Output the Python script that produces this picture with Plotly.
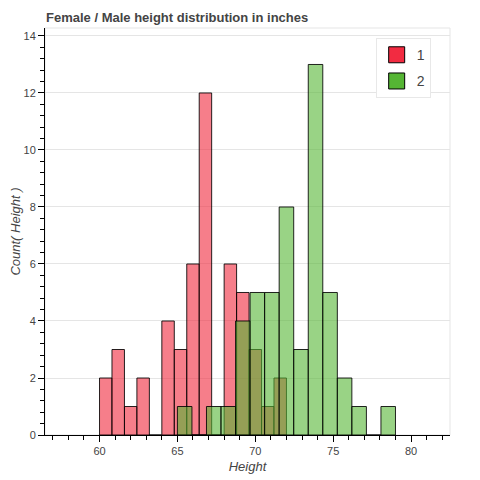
import numpy as np
import plotly.graph_objects as go

# Female (series "1") histogram: 15 bins from 60 to 72 inches
female_bin_range = [60.0, 72.0]
female_counts = [2, 3, 1, 2, 0, 4, 3, 6, 12, 0, 6, 5, 3, 1, 2]
# Male (series "2") histogram: 15 bins from 65 to 79 inches
male_bin_range = [65.0, 79.0]
male_counts = [1, 0, 1, 1, 4, 5, 5, 8, 3, 13, 5, 2, 1, 0, 1]

series_names = ["1", "2"]
fill_colors = ["rgba(240,40,60,0.6)", "rgba(85,181,52,0.6)"]
legend_colors = ["rgb(242,43,65)", "rgb(85,181,52)"]

title_text = "Female / Male height distribution in inches"
x_title = "Height"
y_title = "Count( Height )"
x_ticks = [60, 65, 70, 75, 80]
y_ticks = [0, 2, 4, 6, 8, 10, 12, 14]

FONT = "Liberation Sans, Arial, Helvetica, sans-serif"
W = H = 472  # page body has an 8px margin

fig = go.Figure()


def add_hist(counts, rng, color, name):
    edges = np.linspace(rng[0], rng[1], len(counts) + 1)
    centers = (edges[:-1] + edges[1:]) / 2
    widths = np.diff(edges)
    fig.add_trace(go.Bar(
        x=centers, y=counts, width=widths, name=name, showlegend=False,
        marker=dict(color=color, line=dict(color="rgba(0,0,0,0.85)", width=1)),
        hoverinfo="x+y",
    ))


add_hist(female_counts, female_bin_range, fill_colors[0], series_names[0])
add_hist(male_counts, male_bin_range, fill_colors[1], series_names[1])

for name, col in zip(series_names, legend_colors):
    fig.add_trace(go.Scatter(
        x=[None], y=[None], mode="markers", name=name, legendgroup="g" + name,
        marker=dict(symbol="square", size=17, color=col,
                    line=dict(color="black", width=1)),
    ))

axis_common = dict(
    showline=True, linecolor="black", linewidth=1,
    ticks="outside", ticklen=6, tickcolor="black", tickwidth=1,
    tickfont=dict(family=FONT, size=11, color="#444"),
    zeroline=False, automargin=False,
)

fig.update_xaxes(
    range=[56.5, 82.5], tickvals=x_ticks, showgrid=False,
    minor=dict(dtick=1, tick0=0, ticks="outside", ticklen=4,
               tickcolor="black", showgrid=False),
    title=dict(text=x_title, font=dict(family=FONT, size=13, color="#444",
                                       style="italic"), standoff=5),
    **axis_common,
)
fig.update_yaxes(
    range=[0, 14.28], tickvals=y_ticks, showgrid=True, gridcolor="#e5e5e5",
    minor=dict(dtick=0.4, tick0=0, ticks="outside", ticklen=4,
               tickcolor="black", showgrid=False),
    title=dict(text=y_title, font=dict(family=FONT, size=13, color="#444",
                                       style="italic"), standoff=4),
    **axis_common,
)

fig.add_shape(type="rect", xref="paper", yref="paper", x0=0, x1=1, y0=0, y1=1,
              line=dict(color="#e5e5e5", width=1), layer="below")

fig.update_layout(
    width=W, height=H,
    margin=dict(l=37, r=30, t=20, b=45, pad=0),
    barmode="overlay",
    plot_bgcolor="white", paper_bgcolor="white",
    title=dict(text="<b>" + title_text + "</b>", x=38 / W, xanchor="left",
               y=1 - 9 / H, yanchor="middle", xref="container",
               font=dict(family=FONT, size=13, color="#444")),
    legend=dict(x=0.8165, y=0.975, xanchor="left", yanchor="top",
                bgcolor="white", bordercolor="#e8e8e8", borderwidth=1,
                font=dict(family=FONT, size=14, color="#444"),
                itemsizing="trace", tracegroupgap=5, entrywidth=48),
    font=dict(family=FONT, color="#444"),
)

fig.write_html("out.html")
